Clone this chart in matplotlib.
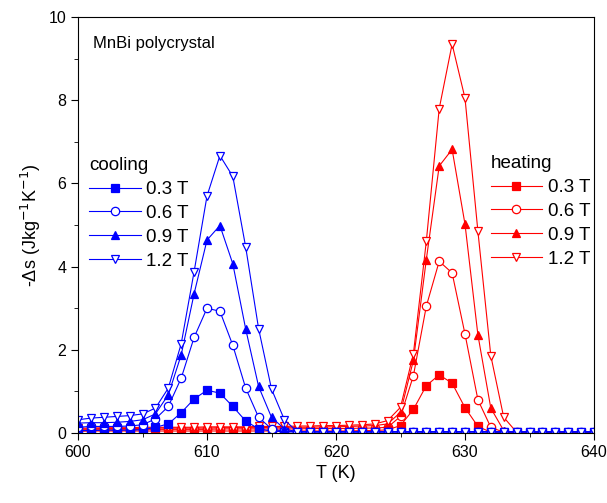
import matplotlib.pyplot as plt
import numpy as np
from matplotlib.ticker import MultipleLocator

plt.rcParams['font.family'] = ['Liberation Sans', 'DejaVu Sans']

# temperature grid (K)
T = np.arange(600, 641)

fields = ['0.3 T', '0.6 T', '0.9 T', '1.2 T']

# cooling, 600..617 K, then flat baseline
cool_03 = [0.06, 0.06, 0.07, 0.07, 0.07, 0.08, 0.14, 0.22, 0.49, 0.82, 1.03, 0.96, 0.64, 0.29, 0.10, 0.05, 0.03, 0.03]
cool_06 = [0.14, 0.16, 0.16, 0.16, 0.17, 0.20, 0.34, 0.64, 1.32, 2.30, 3.00, 2.93, 2.11, 1.08, 0.38, 0.10, 0.04, 0.03]
cool_09 = [0.24, 0.25, 0.25, 0.26, 0.28, 0.32, 0.46, 0.92, 1.88, 3.35, 4.64, 4.99, 4.07, 2.50, 1.12, 0.38, 0.10, 0.03]
cool_12 = [0.32, 0.36, 0.38, 0.40, 0.42, 0.46, 0.60, 1.08, 2.15, 3.88, 5.70, 6.67, 6.17, 4.47, 2.51, 1.06, 0.32, 0.03]

# heating, 600..634 K, then flat baseline
heat_03 = [0.04, 0.05, 0.05, 0.05, 0.05, 0.05, 0.05, 0.05, 0.05, 0.05, 0.05, 0.05, 0.05, 0.05, 0.05,
           0.05, 0.05, 0.05, 0.05, 0.05, 0.05, 0.05, 0.06, 0.06, 0.08, 0.18, 0.57, 1.14, 1.40, 1.20,
           0.61, 0.16, 0.02, 0.01, 0.01]
heat_06 = [0.08, 0.08, 0.08, 0.08, 0.08, 0.09, 0.09, 0.09, 0.09, 0.09, 0.09, 0.10, 0.10, 0.10, 0.10,
           0.10, 0.10, 0.10, 0.11, 0.11, 0.11, 0.11, 0.12, 0.12, 0.14, 0.40, 1.38, 3.05, 4.13, 3.85,
           2.38, 0.80, 0.14, 0.02, 0.01]
heat_09 = [0.10, 0.10, 0.11, 0.11, 0.11, 0.11, 0.12, 0.12, 0.12, 0.12, 0.12, 0.13, 0.13, 0.13, 0.13,
           0.14, 0.14, 0.14, 0.14, 0.15, 0.15, 0.16, 0.17, 0.18, 0.22, 0.50, 1.75, 4.17, 6.42, 6.82,
           5.02, 2.36, 0.60, 0.06, 0.01]
heat_12 = [0.12, 0.12, 0.13, 0.13, 0.13, 0.14, 0.14, 0.14, 0.14, 0.14, 0.15, 0.15, 0.15, 0.15, 0.16,
           0.16, 0.16, 0.17, 0.17, 0.18, 0.18, 0.19, 0.20, 0.22, 0.30, 0.62, 1.91, 4.61, 7.80, 9.35,
           8.05, 4.85, 1.86, 0.38, 0.02]

cool_base = 0.03
heat_base = 0.01


def pad(vals, base):
    return np.concatenate([vals, np.full(len(T) - len(vals), base)])


cooling = [pad(v, cool_base) for v in (cool_03, cool_06, cool_09, cool_12)]
heating = [pad(v, heat_base) for v in (heat_03, heat_06, heat_09, heat_12)]

# marker shape and whether it is filled
styles = [('s', True), ('o', False), ('^', True), ('v', False)]

fig = plt.figure(figsize=(6.07, 5.03), dpi=100)
ax = fig.add_axes([0.1285, 0.139, 0.8501, 0.827])


def draw(series, color):
    lines = []
    for ys, (mk, filled), lab in zip(series, styles, fields):
        l, = ax.plot(T, ys, color=color, lw=0.8, marker=mk, ms=6,
                     mfc=color if filled else 'white', mec=color, mew=0.9, label=lab)
        lines.append(l)
    return lines


heat_lines = draw(heating, 'red')
cool_lines = draw(cooling, 'blue')

ax.set_xlim(600, 640)
ax.set_ylim(0, 10)
ax.xaxis.set_major_locator(MultipleLocator(10))
ax.xaxis.set_minor_locator(MultipleLocator(5))
ax.yaxis.set_major_locator(MultipleLocator(2))
ax.yaxis.set_minor_locator(MultipleLocator(1))
ax.tick_params(which='both', direction='out', labelsize=11.5, top=False, right=False)
ax.tick_params(which='major', length=5)
ax.tick_params(which='minor', length=3)

ax.set_xlabel('T (K)', fontsize=13)
ax.set_ylabel('-Δs (Jkg$^{-1}$K$^{-1}$)', fontsize=13)

ax.text(0.03, 0.955, 'MnBi polycrystal', transform=ax.transAxes, fontsize=12, va='top')

leg_kw = dict(loc='upper left', frameon=False, fontsize=13.5, title_fontsize=13.5,
              handlelength=2.75, handletextpad=0.3, labelspacing=0.36, borderaxespad=0.2)
leg1 = ax.legend(handles=cool_lines, title='cooling', bbox_to_anchor=(0.0, 0.69), **leg_kw)
leg1._legend_box.align = 'left'
ax.add_artist(leg1)
leg2 = ax.legend(handles=heat_lines, title='heating', bbox_to_anchor=(0.778, 0.695), **leg_kw)
leg2._legend_box.align = 'left'

fig.savefig('out.png', dpi=100)
